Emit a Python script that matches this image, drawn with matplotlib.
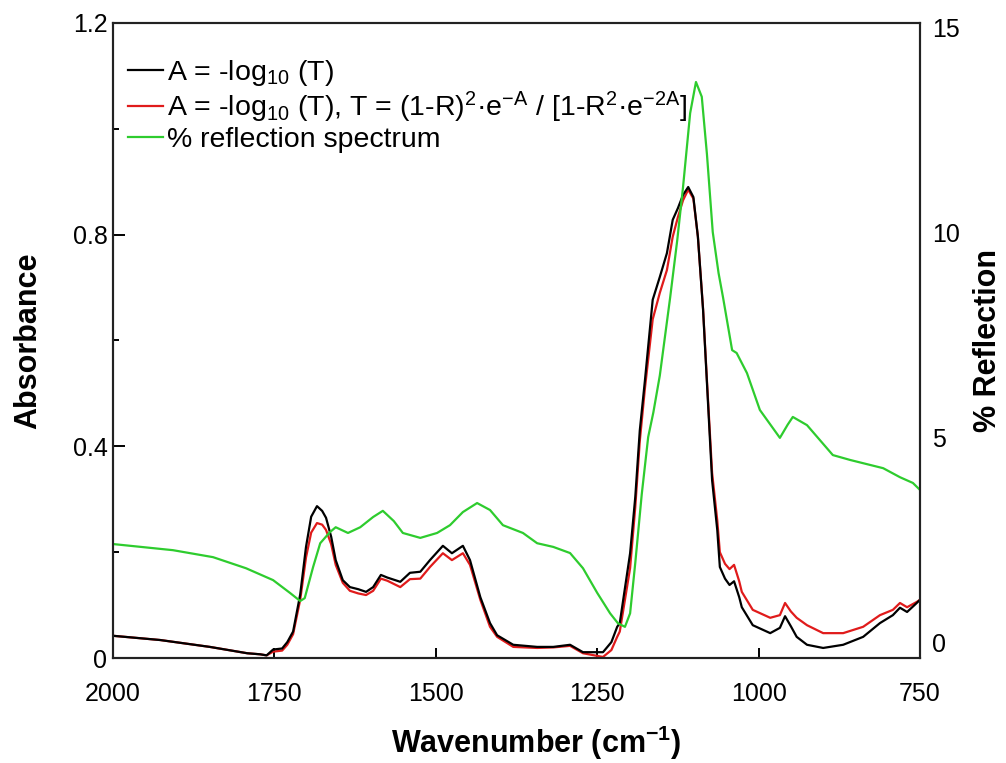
import numpy as np
import matplotlib
matplotlib.use("Agg")
import matplotlib.pyplot as plt

plt.rcParams['font.family'] = ['Liberation Sans', 'DejaVu Sans']
plt.rcParams['mathtext.fontset'] = 'custom'
plt.rcParams['mathtext.rm'] = 'Liberation Sans'
plt.rcParams['mathtext.it'] = 'Liberation Sans:italic'
plt.rcParams['mathtext.bf'] = 'Liberation Sans:bold'

# absorbance spectra (wavenumber in cm-1)
wn_abs = [2000, 1927, 1850, 1792, 1772, 1762, 1752, 1738, 1730, 1721, 1710, 1701,
          1693, 1684, 1676, 1670, 1662, 1655, 1644, 1633, 1620, 1608, 1597, 1585,
          1575, 1555, 1540, 1524, 1509, 1489, 1475, 1458, 1447, 1431, 1416, 1405,
          1380, 1343, 1318, 1292, 1282, 1272, 1241, 1228, 1219, 1215, 1199, 1191,
          1184, 1176, 1164, 1153, 1142, 1133, 1125, 1117, 1109, 1101, 1094, 1086,
          1080, 1072, 1064, 1060, 1052, 1045, 1038, 1030, 1026, 1009, 982, 967,
          959, 950, 941, 925, 900, 869, 838, 812, 792, 781, 770, 755, 750]
abs_plain = [0.042, 0.034, 0.021, 0.009, 0.007, 0.005, 0.016, 0.018, 0.030, 0.050, 0.120, 0.210,
             0.267, 0.287, 0.278, 0.265, 0.229, 0.185, 0.147, 0.134, 0.130, 0.125, 0.134, 0.157,
             0.152, 0.144, 0.161, 0.163, 0.185, 0.212, 0.198, 0.212, 0.185, 0.115, 0.066, 0.043,
             0.025, 0.021, 0.021, 0.025, 0.018, 0.011, 0.011, 0.030, 0.059, 0.066, 0.198, 0.304,
             0.430, 0.525, 0.677, 0.720, 0.765, 0.828, 0.850, 0.875, 0.890, 0.871, 0.796, 0.658,
             0.520, 0.336, 0.242, 0.172, 0.150, 0.138, 0.145, 0.115, 0.096, 0.062, 0.047, 0.057,
             0.079, 0.060, 0.040, 0.025, 0.019, 0.025, 0.040, 0.066, 0.081, 0.095, 0.087, 0.104, 0.110]
abs_corr = [0.042, 0.034, 0.021, 0.009, 0.007, 0.005, 0.012, 0.014, 0.025, 0.045, 0.110, 0.190,
            0.237, 0.255, 0.252, 0.242, 0.215, 0.176, 0.142, 0.127, 0.122, 0.119, 0.127, 0.150,
            0.146, 0.134, 0.149, 0.150, 0.172, 0.198, 0.185, 0.198, 0.176, 0.110, 0.059, 0.040,
            0.021, 0.019, 0.020, 0.023, 0.016, 0.009, 0.002, 0.015, 0.040, 0.050, 0.170, 0.285,
            0.410, 0.510, 0.640, 0.690, 0.733, 0.796, 0.833, 0.865, 0.885, 0.868, 0.796, 0.660,
            0.525, 0.350, 0.260, 0.200, 0.178, 0.168, 0.176, 0.145, 0.125, 0.091, 0.076, 0.081,
            0.104, 0.088, 0.076, 0.062, 0.047, 0.047, 0.059, 0.081, 0.091, 0.104, 0.096, 0.106, 0.110]

# % reflection spectrum
wn_refl = [2000, 1907, 1845, 1794, 1752, 1726, 1710, 1703, 1690, 1679, 1664, 1655,
           1636, 1617, 1597, 1582, 1565, 1551, 1524, 1498, 1478, 1458, 1436, 1416,
           1396, 1365, 1343, 1318, 1292, 1272, 1250, 1230, 1218, 1207, 1199, 1191,
           1181, 1171, 1163, 1153, 1137, 1126, 1117, 1106, 1097, 1088, 1080, 1071,
           1062, 1055, 1041, 1034, 1018, 998, 967, 955, 947, 925, 885, 858, 807,
           781, 761, 750]
refl = [2.39, 2.24, 2.07, 1.80, 1.51, 1.20, 1.00, 1.07, 1.83, 2.41, 2.68, 2.80,
        2.66, 2.80, 3.05, 3.20, 2.95, 2.66, 2.54, 2.66, 2.85, 3.17, 3.39, 3.22,
        2.85, 2.66, 2.41, 2.32, 2.17, 1.80, 1.20, 0.70, 0.46, 0.37, 0.70, 1.93,
        3.60, 5.00, 5.60, 6.50, 8.40, 9.80, 11.10, 12.90, 13.66, 13.30, 11.90, 10.00,
        9.00, 8.40, 7.12, 7.05, 6.56, 5.66, 4.98, 5.30, 5.49, 5.29, 4.56, 4.44, 4.24,
        4.02, 3.88, 3.71]

labels = ['A = -log$_{10}$ (T)',
          'A = -log$_{10}$ (T), T = (1-R)$^{2}$·e$^{\\mathrm{-A}}$ / [1-R$^{2}$·e$^{\\mathrm{-2A}}$]',
          '% reflection spectrum']

fig = plt.figure(figsize=(10.06, 7.63), dpi=100)
ax = fig.add_axes([0.1123, 0.1376, 0.8022, 0.8323])
ax2 = ax.twinx()

l2, = ax.plot(wn_abs, abs_corr, color='#e01b1b', lw=1.6)
l1, = ax.plot(wn_abs, abs_plain, color='#000000', lw=1.6)
l3, = ax2.plot(wn_refl, refl, color='#2ecc2e', lw=1.6)

ax.set_xlim(2000, 750)
ax.set_ylim(0, 1.2)
ax2.set_ylim(-0.39, 15.1)

ax.set_xticks([2000, 1750, 1500, 1250, 1000, 750])
ax.set_yticks([0, 0.4, 0.8, 1.2])
ax.set_yticklabels(['0', '0.4', '0.8', '1.2'])
ax.set_yticks([0.2, 0.6, 1.0], minor=True)
ax2.set_yticks([0, 5, 10, 15])

ax.tick_params(axis='x', direction='in', length=7, width=1.4, pad=17, labelsize=18)
ax.tick_params(axis='y', which='major', direction='in', length=8.5, width=1.4, pad=4, labelsize=18)
ax.tick_params(axis='y', which='minor', direction='in', length=4.5, width=1.4)
ax2.tick_params(axis='y', length=0, pad=9, labelsize=18)

for a in (ax, ax2):
    for s in a.spines.values():
        s.set_linewidth(1.5)
        s.set_color('#222222')

ax.set_xlabel('Wavenumber (cm$^{\\mathbf{-1}}$)', fontsize=22, fontweight='bold')
ax.xaxis.set_label_coords(0.524, -0.104)
ax.set_ylabel('Absorbance', fontsize=22, fontweight='bold')
ax.yaxis.set_label_coords(-0.086, 0.5)
ax2.set_ylabel('% Reflection', fontsize=22, fontweight='bold')
ax2.yaxis.set_label_coords(1.066, 0.5)

ax2.legend([l1, l2, l3], labels, loc='upper left', bbox_to_anchor=(0.018, 0.945),
           borderaxespad=0, borderpad=0, frameon=False, fontsize=20.5,
           handlelength=1.25, handletextpad=0.15, labelspacing=0.06)

fig.savefig('out.png', dpi=100)
